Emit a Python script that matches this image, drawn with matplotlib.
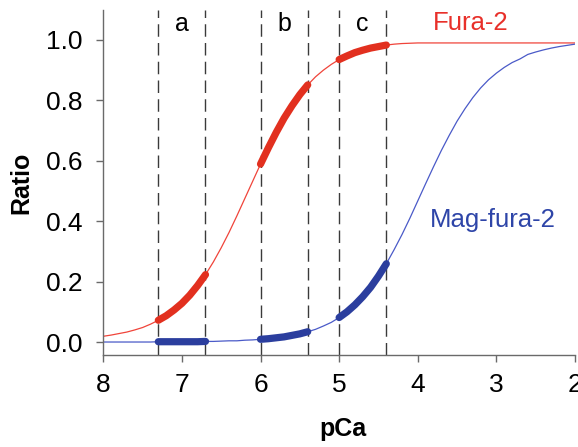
import matplotlib
matplotlib.use("Agg")
import matplotlib.pyplot as plt
import numpy as np

plt.rcParams['font.family'] = ['Liberation Sans', 'DejaVu Sans']

# pCa sample points
pca = [8.0, 7.9, 7.8, 7.7, 7.6, 7.5, 7.4, 7.3, 7.2, 7.1,
       7.0, 6.9, 6.8, 6.7, 6.6, 6.5, 6.4, 6.3, 6.2, 6.1,
       6.0, 5.9, 5.8, 5.7, 5.6, 5.5, 5.4, 5.3, 5.2, 5.1,
       5.0, 4.9, 4.8, 4.7, 4.6, 4.5, 4.4, 4.3, 4.2, 4.1,
       4.0, 3.9, 3.8, 3.7, 3.6, 3.5, 3.4, 3.3, 3.2, 3.1,
       3.0, 2.9, 2.8, 2.7, 2.6, 2.5, 2.4, 2.3, 2.2, 2.1, 2.0]

fura2 = [0.019, 0.023, 0.028, 0.033, 0.040, 0.048, 0.059, 0.072, 0.087, 0.106,
         0.128, 0.155, 0.187, 0.223, 0.265, 0.312, 0.363, 0.418, 0.475, 0.532,
         0.589, 0.643, 0.694, 0.741, 0.782, 0.819, 0.851, 0.878, 0.900, 0.919,
         0.935, 0.947, 0.958, 0.966, 0.973, 0.978, 0.983, 0.986, 0.988, 0.989,
         0.990, 0.990, 0.990, 0.990, 0.990, 0.990, 0.990, 0.990, 0.990, 0.990,
         0.990, 0.990, 0.990, 0.990, 0.990, 0.990, 0.990, 0.990, 0.990, 0.990, 0.990]

magfura2 = [0.000, 0.000, 0.000, 0.000, 0.000, 0.000, 0.000, 0.001, 0.001, 0.001,
            0.001, 0.001, 0.001, 0.002, 0.002, 0.003, 0.004, 0.004, 0.006, 0.007,
            0.009, 0.011, 0.014, 0.017, 0.022, 0.027, 0.034, 0.042, 0.053, 0.065,
            0.081, 0.100, 0.123, 0.150, 0.181, 0.218, 0.259, 0.306, 0.356, 0.410,
            0.467, 0.524, 0.580, 0.634, 0.684, 0.731, 0.772, 0.809, 0.841, 0.868,
            0.890, 0.909, 0.925, 0.937, 0.952, 0.960, 0.967, 0.973, 0.978, 0.982, 0.986]

# measurement windows (high pCa, low pCa)
windows = [(7.3, 6.7), (6.0, 5.4), (5.0, 4.4)]
window_labels = ['a', 'b', 'c']

red_thin = '#F0443A'
red_thick = '#E2301F'
blue_thin = '#4A5AC8'
blue_thick = '#2B3E9E'

fig = plt.figure(figsize=(5.78, 4.47), dpi=100)
ax = fig.add_axes([0.1787, 0.2058, 0.8161, 0.7718])

x = np.array(pca)
y_f = np.array(fura2)
y_m = np.array(magfura2)

for hi, lo in windows:
    ax.axvline(hi, color='#3a3a3a', lw=1.0, dashes=(9, 4.5), zorder=1)
    ax.axvline(lo, color='#3a3a3a', lw=1.0, dashes=(9, 4.5), zorder=1)

ax.plot(x, y_f, color=red_thin, lw=0.9, zorder=2)
ax.plot(x, y_m, color=blue_thin, lw=0.9, zorder=2)

for hi, lo in windows:
    m = (x <= hi + 1e-9) & (x >= lo - 1e-9)
    ax.plot(x[m], y_f[m], color=red_thick, lw=5.2, solid_capstyle='round', zorder=3)
    ax.plot(x[m], y_m[m], color=blue_thick, lw=5.2, solid_capstyle='round', zorder=3)

for (hi, lo), lab in zip(windows, window_labels):
    ax.text((hi + lo) / 2, 1.031, lab, ha='center', va='baseline', fontsize=18)

ax.text(3.81, 1.033, 'Fura-2', color='#E8302A', fontsize=18.5, ha='left', va='baseline')
ax.text(3.845, 0.382, 'Mag-fura-2', color='#2E45A8', fontsize=18.5, ha='left', va='baseline')

ax.set_xlim(8, 2)
ax.set_ylim(-0.043, 1.099)
ax.set_xticks([8, 7, 6, 5, 4, 3, 2])
ax.set_yticks([0.0, 0.2, 0.4, 0.6, 0.8, 1.0])
ax.set_yticklabels(['0.0', '0.2', '0.4', '0.6', '0.8', '1.0'])

for s in ['top', 'right']:
    ax.spines[s].set_visible(False)
for s in ['left', 'bottom']:
    ax.spines[s].set_color('#6a6a6a')
    ax.spines[s].set_linewidth(1.0)

ax.tick_params(axis='x', direction='out', length=5, width=1, color='#6a6a6a',
               labelsize=19, pad=8)
ax.tick_params(axis='y', direction='out', length=5, width=1, color='#6a6a6a',
               labelsize=19, pad=10)

ax.set_xlabel('pCa', fontsize=18, fontweight='bold')
ax.xaxis.set_label_coords(0.508, -0.18)
ax.set_ylabel('Ratio', fontsize=18, fontweight='bold')
ax.yaxis.set_label_coords(-0.149, 0.5)

fig.savefig('out.png', dpi=100)
